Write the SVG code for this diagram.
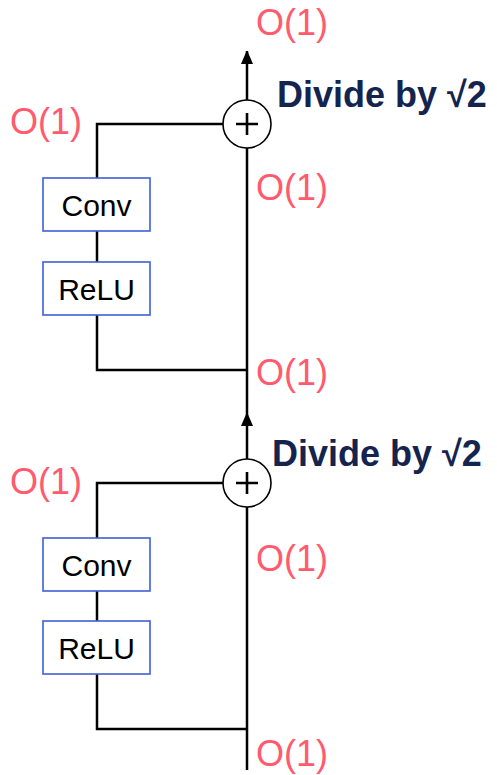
<svg xmlns="http://www.w3.org/2000/svg" width="497" height="775" viewBox="0 0 497 775">
  <style>
    .wire { fill: none; stroke: #000; stroke-width: 2.5; }
    .box rect { fill: #fff; stroke: #3f5fd6; stroke-width: 1.6; }
    .box text { font-family: "Liberation Sans", Arial, sans-serif; font-size: 30px; fill: #000; text-anchor: middle; }
    .sum circle { fill: #fff; stroke: #000; stroke-width: 1.6; }
    .sum path { stroke: #000; stroke-width: 2.6; }
    .order { font-family: "Liberation Sans", Arial, sans-serif; font-size: 36px; fill: #ff5a6e; }
    .note { font-family: "Liberation Sans", Arial, sans-serif; font-size: 36px; font-weight: bold; fill: #15244f; }
  </style>
  <defs>
    <marker id="arrow" markerWidth="12" markerHeight="14" refX="13" refY="6" orient="auto" markerUnits="userSpaceOnUse">
      <path d="M0,0 L14,6 L0,12 Z" fill="#000"/>
    </marker>
  </defs>

  <!-- connectors -->
  <g id="connectors">
    <!-- main trunk -->
    <path class="wire" d="M247,770 L247,507"/>
    <path class="wire" d="M247,459 L247,413" marker-end="url(#arrow)"/>
    <path class="wire" d="M247,413 L247,148"/>
    <path class="wire" d="M247,100 L247,51" marker-end="url(#arrow)"/>
    <!-- upper residual branch -->
    <path class="wire" d="M247,370 L97,370 L97,315"/>
    <path class="wire" d="M97,262 L97,231"/>
    <path class="wire" d="M97,178 L97,124 L223,124"/>
    <!-- lower residual branch -->
    <path class="wire" d="M247,729 L97,729 L97,674"/>
    <path class="wire" d="M97,621 L97,591"/>
    <path class="wire" d="M97,538 L97,483 L223,483"/>
  </g>

  <!-- upper block -->
  <g id="conv1" class="box">
    <rect x="43" y="178" width="107" height="53"/>
    <text x="96.5" y="216">Conv</text>
  </g>
  <g id="relu1" class="box">
    <rect x="43" y="262" width="107" height="53"/>
    <text x="96.5" y="300">ReLU</text>
  </g>
  <g id="sum1" class="sum">
    <circle cx="247" cy="124" r="24"/>
    <path d="M236,124 H258 M247,113 V135"/>
  </g>

  <!-- lower block -->
  <g id="conv2" class="box">
    <rect x="43" y="538" width="107" height="53"/>
    <text x="96.5" y="576">Conv</text>
  </g>
  <g id="relu2" class="box">
    <rect x="43" y="621" width="107" height="53"/>
    <text x="96.5" y="659">ReLU</text>
  </g>
  <g id="sum2" class="sum">
    <circle cx="247" cy="483" r="24"/>
    <path d="M236,483 H258 M247,472 V494"/>
  </g>

  <!-- labels -->
  <g id="labels">
    <text class="order" x="256" y="35">O(1)</text>
    <text class="note" x="277" y="107">Divide by √2</text>
    <text class="order" x="10" y="134">O(1)</text>
    <text class="order" x="256" y="200">O(1)</text>
    <text class="order" x="256" y="385">O(1)</text>
    <text class="note" x="272" y="466">Divide by √2</text>
    <text class="order" x="10" y="494">O(1)</text>
    <text class="order" x="256" y="571">O(1)</text>
    <text class="order" x="256" y="766">O(1)</text>
  </g>
</svg>
